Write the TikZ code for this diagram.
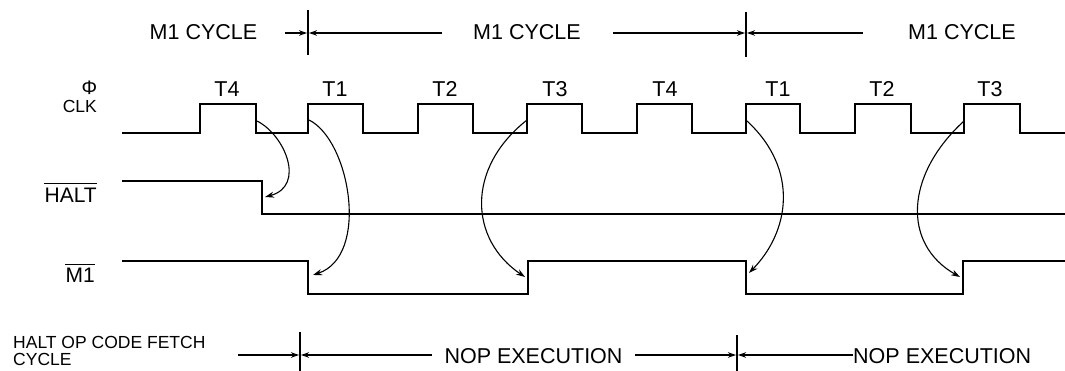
\documentclass[tikz,border=0pt]{standalone}
\usepackage{fontspec}
\setmainfont{Liberation Sans}
\usetikzlibrary{arrows.meta}
\begin{document}
\begin{tikzpicture}[x=1pt,y=-1pt,
  sig/.style={line width=2.9pt, line join=miter},
  tickline/.style={line width=1.4pt},
  dimarr/.style={line width=1.2pt, -{Stealth[length=8pt,width=5.5pt]}},
  causal/.style={line width=1.1pt, -{Stealth[length=9pt,width=6pt]}},
  big/.style={font=\fontsize{21.5}{24}\selectfont, inner sep=0pt, anchor=base},
  signame/.style={font=\fontsize{21}{24}\selectfont, inner sep=0pt, anchor=base east},
  small/.style={font=\fontsize{17.5}{20}\selectfont, inner sep=0pt}]
\useasboundingbox (0,0) rectangle (1065,371);

% ---------- top row: M1 cycles ----------
\node[big] (m1a) at (203.5,40) {M1 CYCLE};
\node[big] (m1b) at (527,40) {M1 CYCLE};
\node[big] (m1c) at (962,40) {M1 CYCLE};
\coordinate (tA1) at (308,10); \coordinate (tA2) at (308,55);
\coordinate (tB1) at (746,12); \coordinate (tB2) at (746,57);
\draw[tickline] (tA1) -- (tA2);
\draw[tickline] (tB1) -- (tB2);
\coordinate (ua1) at (285,33); \coordinate (ua2) at (307,33);
\coordinate (ub1) at (442,33); \coordinate (ub2) at (309,33);
\coordinate (uc1) at (613,33); \coordinate (uc2) at (745,33);
\coordinate (ud1) at (863,33); \coordinate (ud2) at (747,33);
\draw[dimarr] (ua1) -- (ua2);
\draw[dimarr] (ub1) -- (ub2);
\draw[dimarr] (uc1) -- (uc2);
\draw[dimarr] (ud1) -- (ud2);

% ---------- T labels ----------
\foreach \name/\x/\t in {tl1/227/T4, tl2/335/T1, tl3/445/T2, tl4/555/T3,
                         tl5/665/T4, tl6/778/T1, tl7/882/T2, tl8/990/T3}
  \node[big] (\name) at (\x,97) {\t};

% ---------- signal names ----------
\node[small, font=\fontsize{19.5}{22}\selectfont, anchor=base east] (phi) at (97.5,95) {Φ};
\node[small, anchor=base east] (clk) at (97,113) {CLK};
\node[signame] (halt) at (97,203) {HALT};
\draw[line width=0.9pt] ([yshift=5pt]halt.north west) -- ([yshift=5pt]halt.north east);
\node[signame] (mone) at (95,283) {M1};
\draw[line width=0.9pt] ([yshift=4pt]mone.north west) -- ([yshift=4pt]mone.north east);

% ---------- CLK ----------
\draw[sig] (122,133)
  -- (200,133) -- (200,104) -- (256,104) -- (256,133)
  -- (308,133) -- (308,104) -- (363,104) -- (363,133)
  -- (418,133) -- (418,104) -- (473,104) -- (473,133)
  -- (527,133) -- (527,104) -- (582,104) -- (582,133)
  -- (637,133) -- (637,104) -- (692,104) -- (692,133)
  -- (746,133) -- (746,104) -- (800,104) -- (800,133)
  -- (855,133) -- (855,104) -- (911,104) -- (911,133)
  -- (964,133) -- (964,104) -- (1020,104) -- (1020,133)
  -- (1065,133);

% ---------- HALT ----------
\draw[sig] (122,181) -- (262,181) -- (262,214) -- (1065,214);

% ---------- M1 ----------
\draw[sig] (122,261) -- (308,261) -- (308,294) -- (528,294) -- (528,261)
  -- (746,261) -- (746,294) -- (963,294) -- (963,261) -- (1065,261);

% ---------- causal arrows ----------
\coordinate (c1s) at (257,121); \coordinate (c1e) at (265,197);
\coordinate (c2s) at (309,120); \coordinate (c2e) at (313,275);
\coordinate (c3s) at (527,120); \coordinate (c3e) at (525,277);
\coordinate (c4s) at (747,121); \coordinate (c4e) at (749,273);
\coordinate (c5s) at (964,121); \coordinate (c5e) at (960,277);
\draw[causal] (c1s) .. controls (285,135) and (306,186) .. (c1e);
\draw[causal] (c2s) .. controls (350,140) and (370,256) .. (c2e);
\draw[causal] (c3s) .. controls (465,169) and (470,240) .. (c3e);
\draw[causal] (c4s) .. controls (800,170) and (789,232) .. (c4e);
\draw[causal] (c5s) .. controls (905,175) and (902,244) .. (c5e);

% ---------- bottom row ----------
\node[small, anchor=base west] (hof1) at (13,348) {HALT OP CODE FETCH};
\node[small, anchor=base west] (hof2) at (13,365) {CYCLE};
\node[big] (nop1) at (533.5,363) {NOP EXECUTION};
\node[big, anchor=base west] (nop2) at (853,363) {NOP EXECUTION};
\coordinate (bA1) at (300,332); \coordinate (bA2) at (300,371);
\coordinate (bB1) at (737,335); \coordinate (bB2) at (737,371);
\draw[tickline] (bA1) -- (bA2);
\draw[tickline] (bB1) -- (bB2);
\coordinate (la1) at (238,355); \coordinate (la2) at (299,355);
\coordinate (lb1) at (432,355); \coordinate (lb2) at (301,355);
\coordinate (lc1) at (635,355); \coordinate (lc2) at (736,355);
\coordinate (ld1) at (853,355); \coordinate (ld2) at (738,355);
\draw[dimarr] (la1) -- (la2);
\draw[dimarr] (lb1) -- (lb2);
\draw[dimarr] (lc1) -- (lc2);
\draw[dimarr] (nop2.west |- ld1) -- (ld2);
\end{tikzpicture}
\end{document}
